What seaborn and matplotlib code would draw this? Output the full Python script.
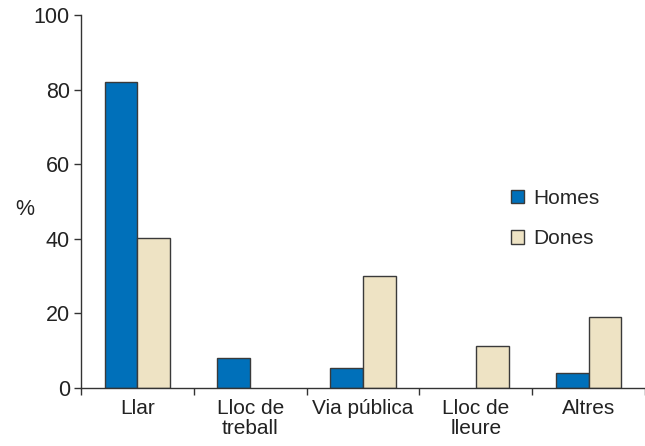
import numpy as np
import pandas as pd
import matplotlib
matplotlib.use("Agg")
import matplotlib.pyplot as plt
import seaborn as sns

# dades
categories = ["Llar", "Lloc de\ntreball", "Via pública", "Lloc de\nlleure", "Altres"]
homes = [82, 8, 5.3, np.nan, 4]
dones = [40.2, np.nan, 30, 11.2, 19]
series = ["Homes", "Dones"]
colors = ["#0070BA", "#EEE3C4"]
yticks = [0, 20, 40, 60, 80, 100]

df = pd.DataFrame({
    "categoria": categories * 2,
    "sexe": [series[0]] * len(categories) + [series[1]] * len(categories),
    "valor": homes + dones,
})

sns.set_style("white")
plt.rcParams['font.family'] = ['Liberation Sans', 'DejaVu Sans']

fig = plt.figure(figsize=(6.45, 4.46), dpi=100)
ax = fig.add_axes([81 / 645, 58 / 446, 564 / 645, 373 / 446])

sns.barplot(data=df, x="categoria", y="valor", hue="sexe", order=categories,
            hue_order=series, palette=colors, saturation=1, width=0.58,
            edgecolor="#3a3a3a", linewidth=1.0, errorbar=None, ax=ax)

ax.set_xlim(-0.5, 4.47)
ax.set_ylim(0, 100)
ax.set_yticks(yticks)
ax.tick_params(axis="y", length=5, width=1, color="#333333", labelsize=15.5,
               colors="#222222", pad=3, left=True)
ax.set_xticks(np.arange(-0.5, 5, 1), minor=True)
ax.tick_params(axis="x", which="minor", length=5, width=1, color="#333333", bottom=True)
ax.tick_params(axis="x", which="major", length=0, labelsize=15, colors="#222222", pad=8)
for lab in ax.get_xticklabels():
    lab.set_linespacing(1.05)

ax.set_xlabel("")
ax.set_ylabel("%", rotation=0, fontsize=15.5, color="#222222")
ax.yaxis.set_label_coords(-0.1, 0.45)

sns.despine(ax=ax)
for side in ["left", "bottom"]:
    ax.spines[side].set_color("#333333")
    ax.spines[side].set_linewidth(1)

ax.legend(title=None, frameon=False, loc="upper left", bbox_to_anchor=(0.73, 0.585),
          fontsize=15, handlelength=0.6, handleheight=0.6, handletextpad=0.45,
          labelspacing=1.05)

fig.savefig("out.png", dpi=100)
